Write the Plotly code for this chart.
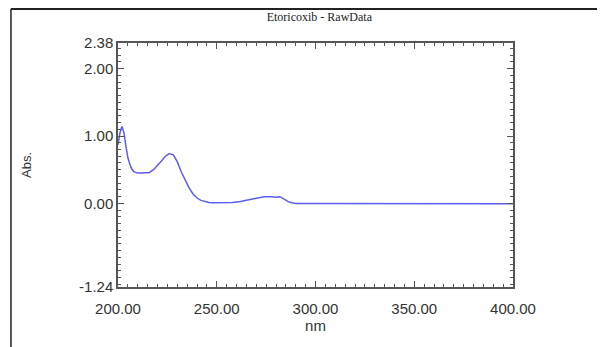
import plotly.graph_objects as go

wavelength = [200, 201, 202, 203, 204, 205, 206, 207, 208, 210, 212, 214, 216, 218, 220,
              222, 224, 226, 228, 230, 232, 234, 236, 238, 240, 242, 244, 246, 248, 250,
              254, 258, 262, 266, 270, 274, 278, 280, 282, 283, 284, 286, 288, 290, 295,
              300, 310, 320, 330, 333, 336, 339, 342, 345, 348, 351, 354, 357, 360, 363,
              366, 370, 380, 390, 400]
absorbance = [0.87, 1.05, 1.14, 1.05, 0.85, 0.68, 0.58, 0.51, 0.47, 0.45, 0.45, 0.45, 0.46,
              0.50, 0.56, 0.63, 0.70, 0.74, 0.72, 0.62, 0.47, 0.34, 0.23, 0.14, 0.08, 0.045,
              0.025, 0.015, 0.01, 0.01, 0.01, 0.015, 0.03, 0.05, 0.08, 0.10, 0.10, 0.09, 0.10,
              0.08, 0.06, 0.03, 0.01, 0.0, 0.0, 0.0, 0.0, -0.003, -0.003, 0.004, -0.003, 0.004,
              -0.003, 0.004, -0.003, 0.004, -0.003, 0.004, -0.003, 0.004, -0.003, -0.004, -0.004,
              -0.004, -0.004]

y_tickvals = [-1.24, 0.0, 1.0, 2.0, 2.38]
y_ticktext = ["-1.24", "0.00", "1.00", "2.00", "2.38"]
x_tickvals = [200, 250, 300, 350, 400]
x_ticktext = ["200.00", "250.00", "300.00", "350.00", "400.00"]

tick_font = dict(family="Liberation Sans, Arial", size=15, color="#333333")

fig = go.Figure()
fig.add_trace(go.Scatter(x=wavelength, y=absorbance, mode="lines",
                         line=dict(color="#5c5cf2", width=1.5), showlegend=False))

fig.update_layout(
    width=597, height=339,
    margin=dict(l=110, r=92, t=35, b=60),
    paper_bgcolor="white", plot_bgcolor="white",
    title=dict(text="Etoricoxib - RawData", x=0.5215, xanchor="center", y=0.973, yanchor="middle",
               font=dict(family="Liberation Serif, Times New Roman, serif", size=12, color="#222222")),
    xaxis=dict(range=[200, 400], tickvals=x_tickvals, ticktext=x_ticktext,
               ticks="inside", ticklen=6, tickwidth=1, tickcolor="#555555",
               showline=True, linecolor="#555555", linewidth=1.5, mirror="ticks",
               showgrid=False, zeroline=False, tickfont=tick_font, ticklabelstandoff=7,
               minor=dict(dtick=5, tick0=200, ticks="inside", ticklen=3, tickcolor="#555555", showgrid=False),
               title=dict(text="nm", font=dict(family="Liberation Sans, Arial", size=15, color="#333333"), standoff=4)),
    yaxis=dict(range=[-1.24, 2.38], tickvals=y_tickvals, ticktext=y_ticktext,
               ticks="inside", ticklen=6, tickwidth=1, tickcolor="#555555",
               showline=True, linecolor="#555555", linewidth=1.5, mirror="ticks",
               showgrid=False, zeroline=False, tickfont=tick_font,
               minor=dict(dtick=0.1, tick0=0, ticks="inside", ticklen=3, tickcolor="#555555", showgrid=False),
               title=dict(text="Abs.", font=dict(family="Liberation Sans, Arial", size=13, color="#333333"), standoff=44)),
    shapes=[
        dict(type="line", xref="paper", yref="paper", x0=-0.271, x1=1.25, y0=1.139, y1=1.139,
             line=dict(color="#222222", width=2)),
        dict(type="line", xref="paper", yref="paper", x0=-0.271, x1=-0.271, y0=1.139, y1=-0.25,
             line=dict(color="#222222", width=1.5)),
    ],
)

fig.write_html("out.html")
